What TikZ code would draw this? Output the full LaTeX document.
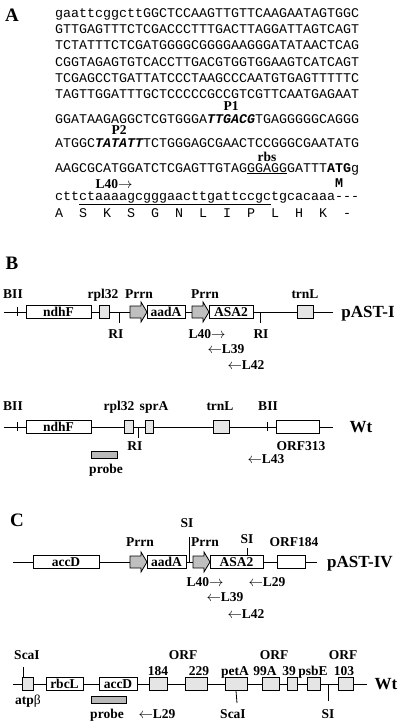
\documentclass[tikz,border=0pt]{standalone}
\usepackage{fontspec}
\setmainfont{Liberation Serif}
\newfontfamily\seqfont{Liberation Mono}
\usetikzlibrary{positioning}

\tikzset{
    lbl/.style={font=\fontsize{13.5}{13.5}\selectfont\bfseries, inner sep=0pt, text height=9pt, text depth=0pt},
    big/.style={font=\fontsize{17}{17}\selectfont\bfseries, inner sep=0pt, text height=11pt, text depth=0pt},
    panel/.style={font=\fontsize{19}{19}\selectfont\bfseries, inner sep=0pt, text height=12pt, text depth=0pt},
    seq/.style={font=\seqfont\fontsize{13.33}{14}\selectfont, inner sep=0pt, anchor=base west, text depth=1pt},
    gene/.style={draw, fill=white, line width=0.8pt, minimum height=13pt, inner sep=0pt,
        font=\fontsize{13.5}{13.5}\selectfont\bfseries, text height=9pt, text depth=0pt},
    sgene/.style={gene, fill=gray!20},
    probebox/.style={draw, fill=gray!55, line width=0.6pt, minimum height=7pt, inner sep=0pt},
    promoter/.style={draw, fill=gray!50, line width=0.8pt},
    backbone/.style={line width=1pt},
    site/.style={line width=0.8pt},
}

\begin{document}
\begin{tikzpicture}[x=1pt,y=-1pt]
    \useasboundingbox (0,0) rectangle (400,724);

% A: promoter sequence
    \node[panel] (A) at (12,15) {A};
    \node[seq] (s1) at (55,17.5) {gaattcggcttGGCTCCAAGTTGTTCAAGAATAGTGGC};
    \node[seq] (s2) at (55,33.5) {GTTGAGTTTCTCGACCCTTTGACTTAGGATTAGTCAGT};
    \node[seq] (s3) at (55,49.5) {TCTATTTCTCGATGGGGCGGGGAAGGGATATAACTCAG};
    \node[seq] (s4) at (55,66) {CGGTAGAGTGTCACCTTGACGTGGTGGAAGTCATCAGT};
    \node[seq] (s5) at (55,82.5) {TCGAGCCTGATTATCCCTAAGCCCAATGTGAGTTTTTC};
    \node[seq] (s6) at (55,98.5) {TAGTTGGATTTGCTCCCCCGCCGTCGTTCAATGAGAAT};
    \node[lbl] (P1) at (231,105.5) {P1};
    \node[seq] (s7) at (55,123) {GGATAAGAGGCTCGTGGGA{\bfseries\itshape TTGACG}TGAGGGGGCAGGG};
    \node[lbl] (P2) at (119,130) {P2};
    \node[seq] (s8) at (55,147) {ATGGC{\bfseries\itshape TATATT}TCTGGGAGCGAACTCCGGGCGAATATG};
    \node[lbl] (rbs) at (267,157) {rbs};
    \node[seq] (s9) at (55,172) {AAGCGCATGGATCTCGAGTTGTAG\underline{GGAGG}GATTT{\bfseries ATG}g};
    \node[lbl] (L40a) at (114,183.5) {L40$\rightarrow$};
    \node[seq, anchor=base] (M) at (339,187.5) {\bfseries M};
    \node[seq] (s10) at (55,200) {ctt\underline{ctaaaagcgggaacttgattccgc}tgcacaaa\mbox{-}\mbox{-}\mbox{-}};
    \foreach \aa [count=\i from 0] in {A,S,K,S,G,N,L,I,P,L,H,K,-}
        \node[seq] (aa\i) at (55+24*\i,217) {\aa};

% B: pAST-I
    \node[panel] (B) at (12,263) {B};
    \draw[backbone] (4,312) -- (333,312);
    \draw[site] (17,307) -- (17,316);
    \node[lbl] (biiA) at (13,294) {BII};
    \node[gene, minimum width=65pt] (ndhFA) at (58.5,312) {ndhF};
    \node[sgene, minimum width=10pt] (rplA) at (104,312) {};
    \node[lbl] at (103,294) {rpl32};
    \draw[site] (119,312) -- (119,323);
    \node[lbl] (riA) at (116,334) {RI};
    \foreach \px in {130,192}
        \draw[promoter] (\px,312) ++(0,-6) -- ++(11,0) -- ++(0,-4) -- ++(6,10) -- ++(-6,10) -- ++(0,-4) -- ++(-11,0) -- cycle;
    \node[lbl] (prrnA) at (139,294) {Prrn};
    \node[lbl] (prrnB) at (205,294) {Prrn};
    \node[gene, minimum width=38pt] (aadAA) at (166,312) {aadA};
    \node[gene, minimum width=44pt] (asaA) at (231,312) {ASA2};
    \draw[site] (260,312) -- (260,323);
    \node[lbl] (riB) at (261,334) {RI};
    \node[sgene, minimum width=16pt] (trnLA) at (305,312) {};
    \node[lbl] at (305,294) {trnL};
    \node[big] (pastI) at (368,312) {pAST-I};
    \node[lbl] (l40B) at (207,334) {L40$\rightarrow$};
    \node[lbl] (l39B) at (226,349) {$\leftarrow$L39};
    \node[lbl] (l42B) at (246,365) {$\leftarrow$L42};

% B: wild type
    \draw[backbone] (4,427) -- (333,427);
    \draw[site] (17,422) -- (17,431);
    \node[lbl] (biiB) at (13,406) {BII};
    \node[gene, minimum width=65pt] (ndhFB) at (58.5,427) {ndhF};
    \node[sgene, minimum width=9pt] (rplB) at (128.5,427) {};
    \node[lbl] at (119,406) {rpl32};
    \draw[site] (138,427) -- (138,438);
    \node[lbl] (riC) at (135,446) {RI};
    \node[sgene, minimum width=8pt] (sprA) at (149,427) {};
    \node[lbl] at (154,406) {sprA};
    \node[sgene, minimum width=16pt] (trnLB) at (221,427) {};
    \node[lbl] at (220,406) {trnL};
    \draw[site] (267,422) -- (267,431);
    \node[lbl] (biiC) at (268,406) {BII};
    \node[gene, minimum width=43pt] (orf313) at (297.5,427) {};
    \node[lbl] at (301,446) {ORF313};
    \node[big] (wtB) at (361,427) {Wt};
    \node[probebox, minimum width=26pt] (probeB) at (104,454.5) {};
    \node[lbl] at (106,469) {probe};
    \node[lbl] (l43) at (266,459) {$\leftarrow$L43};

% C: pAST-IV
    \node[panel] (C) at (17,520) {C};
    \draw[backbone] (13,562) -- (317,562);
    \node[gene, minimum width=66pt] (accDA) at (66,562) {accD};
    \foreach \px in {130,193}
        \draw[promoter] (\px,562) ++(0,-6) -- ++(11,0) -- ++(0,-4) -- ++(6,10) -- ++(-6,10) -- ++(0,-4) -- ++(-11,0) -- cycle;
    \node[lbl] (prrnC) at (140,542) {Prrn};
    \node[lbl] (prrnD) at (205,542) {Prrn};
    \node[gene, minimum width=39pt] (aadAB) at (166.5,562) {aadA};
    \draw[site] (189,537) -- (189,562);
    \node[lbl] (siA) at (187,523) {SI};
    \node[gene, minimum width=53pt] (asaB) at (236.5,562) {ASA2};
    \draw[site] (247,548) -- (247,555.5);
    \node[lbl] (siB) at (247,539) {SI};
    \node[gene, minimum width=28pt] (orf184A) at (291,562) {};
    \node[lbl] at (294,542) {ORF184};
    \node[big] (pastIV) at (360,562) {pAST-IV};
    \node[lbl] (l40C) at (205,582) {L40$\rightarrow$};
    \node[lbl] (l29A) at (267,582) {$\leftarrow$L29};
    \node[lbl] (l39C) at (225,597) {$\leftarrow$L39};
    \node[lbl] (l42C) at (246,614) {$\leftarrow$L42};

% C: wild type
    \draw[backbone] (13,684) -- (367,684);
    \draw[site] (23,667) -- (23,677.5);
    \node[lbl] (scaA) at (27,655) {ScaI};
    \node[sgene, minimum width=11pt] (atpb) at (27.5,684) {};
    \node[lbl] at (28,700) {atp{\mdseries β}};
    \node[gene, minimum width=37pt] (rbcL) at (64.5,684) {rbcL};
    \node[gene, minimum width=38pt] (accDB) at (118,684) {accD};
    \node[probebox, minimum width=35pt] (probeC) at (108.5,700) {};
    \node[lbl] at (107,714) {probe};
    \node[lbl] (l29B) at (157,714) {$\leftarrow$L29};
    \node[sgene, minimum width=18pt] (orf184B) at (158,684) {};
    \node[sgene, minimum width=22pt] (orf229) at (196,684) {};
    \node[lbl] at (183,655) {ORF};
    \node[lbl] at (158,671) {184};
    \node[lbl] at (199,671) {229};
    \node[sgene, minimum width=22pt] (petA) at (236,684) {};
    \node[lbl] at (235,671) {petA};
    \draw[site] (petA.south) -- (237,703);
    \node[lbl] (scaB) at (233,714) {ScaI};
    \node[sgene, minimum width=17pt] (orf99) at (270.5,684) {};
    \node[sgene, minimum width=10pt] (orf39) at (292,684) {};
    \node[lbl] at (274,655) {ORF};
    \node[lbl] at (265,671) {99A};
    \node[lbl] at (289,671) {39};
    \node[sgene, minimum width=13pt] (psbE) at (313.5,684) {};
    \node[lbl] at (313,671) {psbE};
    \draw[site] (328,684) -- (328,701);
    \node[lbl] (siC) at (328,714) {SI};
    \node[sgene, minimum width=15pt] (orf103) at (345.5,684) {};
    \node[lbl] at (343,655) {ORF};
    \node[lbl] at (344,671) {103};
    \node[big] (wtC) at (386,684) {Wt};

\end{tikzpicture}
\end{document}
